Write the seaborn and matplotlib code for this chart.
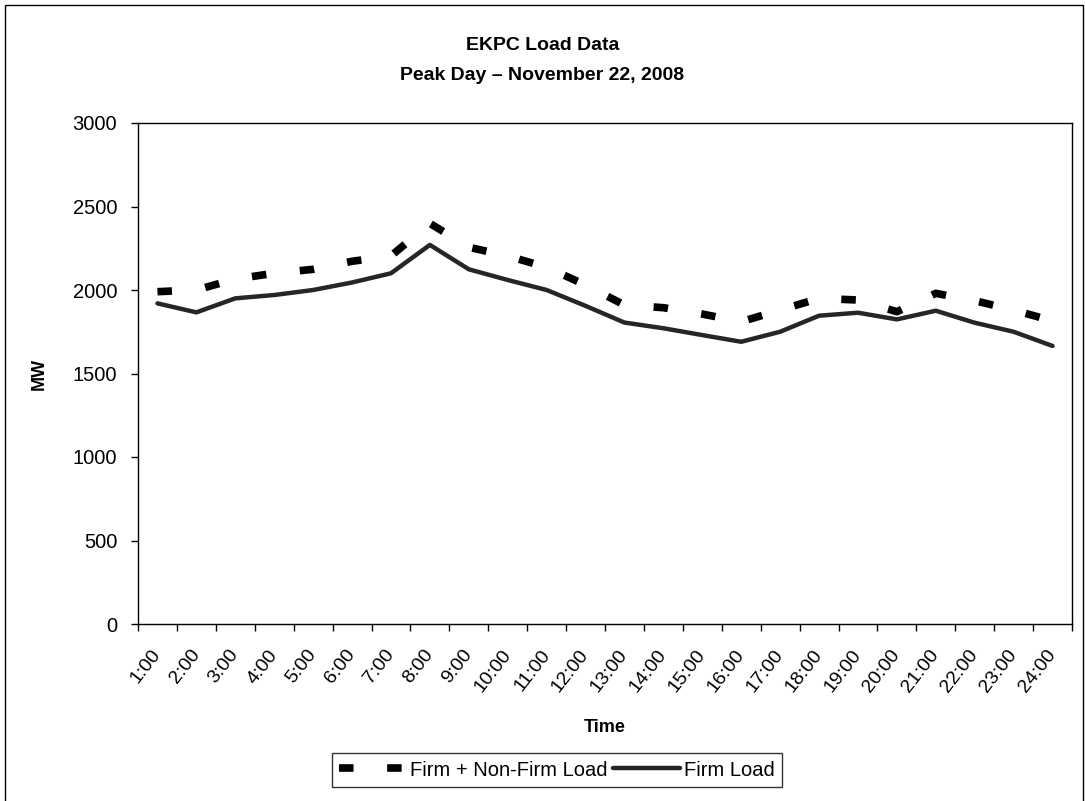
import matplotlib
matplotlib.use("Agg")
import matplotlib.pyplot as plt
import seaborn as sns
import pandas as pd
from matplotlib.patches import Rectangle
from matplotlib.ticker import FixedLocator
from matplotlib.transforms import ScaledTranslation

hours = [f"{h}:00" for h in range(1, 25)]
firm_nonfirm = [1990, 2000, 2066, 2100, 2124, 2172, 2204, 2399, 2256, 2204, 2136, 2030,
                1910, 1894, 1856, 1810, 1880, 1950, 1940, 1870, 1980, 1936, 1880, 1815]
firm = [1920, 1866, 1950, 1970, 2000, 2045, 2100, 2270, 2124, 2060, 2000, 1905,
        1805, 1771, 1730, 1690, 1750, 1846, 1864, 1824, 1876, 1804, 1750, 1665]

sns.set_theme(style="white")
plt.rcParams['font.family'] = ['Liberation Sans', 'DejaVu Sans']
plt.rcParams['text.color'] = 'black'
plt.rcParams['xtick.color'] = 'black'
plt.rcParams['ytick.color'] = 'black'
plt.rcParams['axes.labelcolor'] = 'black'

df = pd.DataFrame({
    "Time": list(range(24)) * 2,
    "MW": firm_nonfirm + firm,
    "Series": ["Firm + Non-Firm Load"] * 24 + ["Firm Load"] * 24,
})

fig = plt.figure(figsize=(10.85, 8.01), dpi=100)
ax = fig.add_axes([138/1085, (801-624)/801, (1072-138)/1085, (624-123)/801])

sns.lineplot(data=df[df.Series == "Firm + Non-Firm Load"], x="Time", y="MW", ax=ax,
             color="black", linewidth=5.5, label="Firm + Non-Firm Load")
sns.lineplot(data=df[df.Series == "Firm Load"], x="Time", y="MW", ax=ax,
             color="#262626", linewidth=3.2, label="Firm Load")
ax.lines[0].set_dashes([1.9, 4.4])
ax.lines[0].set_dash_capstyle("butt")

ax.set_xlim(-0.5, 23.5)
ax.set_ylim(0, 3000)
ax.set_yticks(range(0, 3001, 500))
ax.set_xticks(range(24))
ax.set_xticklabels(hours, rotation=52, ha="right", va="center", rotation_mode="anchor")
off = ScaledTranslation(-8/100, 0, fig.dpi_scale_trans)
for lab in ax.get_xticklabels():
    lab.set_transform(lab.get_transform() + off)
ax.xaxis.set_minor_locator(FixedLocator([i - 0.5 for i in range(25)]))
ax.tick_params(axis="x", which="major", length=0, pad=20, labelsize=14)
ax.tick_params(axis="x", which="minor", length=5, width=1, color="black", direction="out", bottom=True)
ax.tick_params(axis="y", length=5, width=1, color="black", direction="out", left=True, labelsize=14.5, pad=10)

for s in ["top", "right", "left", "bottom"]:
    ax.spines[s].set_visible(True)
    ax.spines[s].set_color("black")
    ax.spines[s].set_linewidth(1.0)

ax.set_xlabel("Time", fontsize=13, fontweight="bold")
ax.xaxis.set_label_coords(0.5, (624-719)/501)
ax.set_ylabel("MW", fontsize=13, fontweight="bold")
ax.yaxis.set_label_coords(-(138-48)/934, 0.5)

fig.text(0.5, 1 - 45/801, "EKPC Load Data", ha="center", va="center", fontsize=14, fontweight="bold")
fig.text(0.5, 1 - 75/801, "Peak Day \u2013 November 22, 2008", ha="center", va="center", fontsize=14, fontweight="bold")

leg = ax.legend(loc="center", bbox_to_anchor=((557-138)/934, (624-770)/501), ncol=2, frameon=True,
                fontsize=14.5, handlelength=3.3, columnspacing=0.3, handletextpad=0.2,
                borderpad=0.35, borderaxespad=0, fancybox=False, edgecolor="black")
leg.get_frame().set_linewidth(1.0)
for t in leg.get_texts():
    t.set_color("black")

fig.patches.append(Rectangle((5/1085, -0.01), (1083-5)/1085, 1.0 - 5/801 + 0.01, transform=fig.transFigure,
                             fill=False, edgecolor="black", linewidth=1.0))

fig.savefig("out.png", dpi=100)
